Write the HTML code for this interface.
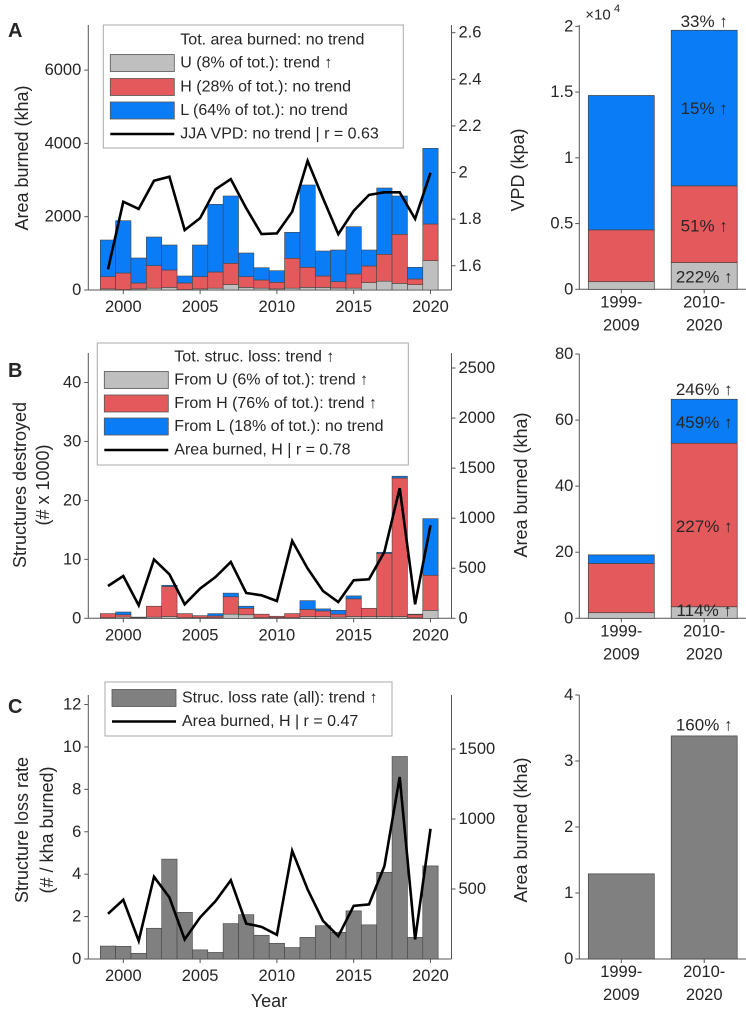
<!DOCTYPE html>
<html><head><meta charset="utf-8"><style>
html,body{margin:0;padding:0;background:#fff}
svg{display:block;font-family:"Liberation Sans",Arial,sans-serif}
text{fill:#262626}
</style></head><body>
<svg id="fig" width="746" height="1015" viewBox="0 0 746 1015"></svg>
<script>
const years=[1999,2000,2001,2002,2003,2004,2005,2006,2007,2008,2009,2010,2011,2012,2013,2014,2015,2016,2017,2018,2019,2020];
// Panel A: area burned (kha)
const areaU=[30,10,30,50,70,10,30,50,150,70,50,30,50,70,70,55,50,200,240,180,145,800];
const areaH=[333,454,161,613,476,181,333,441,578,293,223,180,815,549,312,171,387,455,734,1340,155,1001];
const areaL=[1001,1427,682,783,682,191,865,1847,1837,647,335,317,709,2246,682,865,1290,436,1809,1045,319,2065];
const vpd=[1.585,1.875,1.844,1.965,1.982,1.753,1.804,1.928,1.972,1.847,1.736,1.739,1.832,2.05,1.89,1.736,1.836,1.904,1.915,1.915,1.801,1.999];
// Panel B: structures destroyed (thousands)
const strU=[0.1,0.2,0.1,0.2,0.3,0.1,0.1,0.1,0.7,0.6,0.1,0.1,0.1,0.3,0.3,0.2,0.3,0.3,0.3,0.3,0.1,1.35];
const strH=[0.7,0.4,0.1,1.85,5.1,0.7,0.35,0.3,2.95,1.1,0.6,0.25,0.7,1.2,0.95,0.5,3.0,1.4,10.7,23.5,0.5,5.95];
const strL=[0,0.47,0,0,0.2,0,0,0.4,0.62,0.35,0,0,0,1.5,0.35,0.65,0.5,0,0.2,0.3,0.1,9.6];
const areaBurnedH=[323,423,130,587,440,140,297,413,563,253,230,173,773,497,273,163,380,390,663,1300,140,930];
// Panel C: structure loss rate
const lossRate=[0.61,0.6,0.27,1.45,4.71,2.2,0.43,0.31,1.67,2.09,1.12,0.74,0.54,1.02,1.57,1.26,2.27,1.61,4.09,9.55,1.02,4.39];
// Right panels
const periods=["1999-|2009","2010-|2020"];
const perAreaU=[0.058,0.203],perAreaH=[0.394,0.584],perAreaL=[1.022,1.183];
const perAreaLbl=["33% ↑","15% ↑","51% ↑","222% ↑"];
const perStrU=[1.7,3.5],perStrH=[14.9,49.5],perStrL=[2.6,13.3];
const perStrLbl=["246% ↑","459% ↑","227% ↑","114% ↑"];
const perRate=[1.29,3.38];
const perRateLbl=["160% ↑"];
const ticksA=[0,2000,4000,6000],ticksVPD=[1.6,1.8,2.0,2.2,2.4,2.6],ticksVPDlbl=["1.6","1.8","2","2.2","2.4","2.6"];
const ticksB=[0,10,20,30,40],ticksBr=[0,500,1000,1500,2000,2500];
const ticksC=[0,2,4,6,8,10,12],ticksCr=[500,1000,1500];
const xTicks=[2000,2005,2010,2015,2020];

const C={U:"#bfbfbf",H:"#e45a5c",L:"#0a7df6",G:"#808080",ax:"#555"};
const FS=16.5;
const svg=document.getElementById('fig');
const NS="http://www.w3.org/2000/svg";
function el(tag,attrs,parent){const e=document.createElementNS(NS,tag);for(const k in attrs)e.setAttribute(k,attrs[k]);(parent||svg).appendChild(e);return e;}
function txt(s,x,y,opt,parent){const t=el('text',Object.assign({x:x,y:y,'font-size':FS,'text-anchor':'middle','dominant-baseline':'central'},opt||{}),parent);t.textContent=s;return t;}

const X0=88.3,X1=451.5,yr0=1997.72,yr1=2021.37;
const xs=v=>X0+(v-yr0)/(yr1-yr0)*(X1-X0);
const bw=xs(2001)-xs(2000);
function lin(d0,d1,p0,p1){return v=>p0+(v-d0)/(d1-d0)*(p1-p0);}

function leftPanel(g,top,bot,ysL,ticksL,lblL,ysR,ticksR,lblR){
  el('line',{x1:X0,y1:top,x2:X0,y2:bot,stroke:C.ax,'stroke-width':1},g);
  el('line',{x1:X1,y1:top,x2:X1,y2:bot,stroke:C.ax,'stroke-width':1},g);
  el('line',{x1:X0,y1:bot,x2:X1,y2:bot,stroke:C.ax,'stroke-width':1},g);
  ticksL.forEach((t,i)=>{const y=ysL(t);el('line',{x1:X0-4,y1:y,x2:X0,y2:y,stroke:C.ax},g);const tt=txt(lblL[i],X0-7,y,{'text-anchor':'end'},g);});
  ticksR.forEach((t,i)=>{const y=ysR(t);el('line',{x1:X1,y1:y,x2:X1+4,y2:y,stroke:C.ax},g);const tt=txt(lblR[i],X1+7,y,{'text-anchor':'start'},g);});
  xTicks.forEach(t=>{const x=xs(t);el('line',{x1:x,y1:bot,x2:x,y2:bot+4,stroke:C.ax},g);const tt=txt(String(t),x,bot+17,{},g);});
}
function stack(g,ys,series,colors,names){
  years.forEach((yr,i)=>{let base=0;series.forEach((s,k)=>{const v=s[i];if(v<=0)return;const y1=ys(base),y2=ys(base+v);
    const r=el('rect',{x:xs(yr)-bw/2,y:y2,width:bw,height:y1-y2,fill:colors[k],stroke:'#444','stroke-width':0.6},g);
    
    
    base+=v;});});
}
function line(g,ys,vals,name){
  const p=years.map((yr,i)=>xs(yr).toFixed(1)+','+ys(vals[i]).toFixed(1)).join(' ');
  const l=el('polyline',{points:p,fill:'none',stroke:'#000','stroke-width':2.6,'stroke-linejoin':'miter'},g);
  
  
}
function legend(g,x,y,w,h,rows){
  const b=el('rect',{x:x,y:y,width:w,height:h,fill:'#fff',stroke:'#aaa','stroke-width':1},g);
  
  
  rows.forEach(r=>{
    if(r.c){const s=el('rect',{x:x+7,y:r.y-8.5,width:64,height:17,fill:r.c,stroke:'#555','stroke-width':0.8},g);}
    if(r.line){const s=el('line',{x1:x+7,y1:r.y,x2:x+71,y2:r.y,stroke:'#000','stroke-width':2.6},g);}
    const t=txt(r.t,x+77,r.y,{'text-anchor':'start','font-size':16},g);
  });
}
function vlabel(s,x,y,name){const t=txt(s,x,y,{transform:`rotate(-90 ${x} ${y})`,'font-size':18});}
function plabel(s,x,y,name){const t=txt(s,x,y,{'font-size':20,'font-weight':'bold','text-anchor':'start',fill:'#000'});}

// ---------- Panel A ----------
const gA=el('g',{});
const yA=lin(0,7230,290,25),yV=lin(1.496,2.633,290,25);
leftPanel(gA,25,290,yA,ticksA,ticksA.map(String),yV,ticksVPD,ticksVPDlbl);
stack(gA,yA,[areaU,areaH,areaL],[C.U,C.H,C.L],['u','h','l']);
line(gA,yV,vpd,'vpd-line');
legend(gA,103.3,25,300,123,[{t:'Tot. area burned: no trend',y:40},{t:'U (8% of tot.): trend ↑',y:63,c:C.U},{t:'H (28% of tot.): no trend',y:87,c:C.H},{t:'L (64% of tot.): no trend',y:110.5,c:C.L},{t:'JJA VPD: no trend | r = 0.63',y:134,line:1}]);
vlabel('Area burned (kha)',22,158,'y-axis-title-area');
vlabel('VPD (kpa)',518,170,'y-axis-title-vpd');
plabel('A',8,31,'panel-label-a');

// ---------- Panel B ----------
const gB=el('g',{});
const yB=lin(0,45,618.3,353),yBr=lin(0,2650,618.3,353);
leftPanel(gB,353,618.3,yB,ticksB,ticksB.map(String),yBr,ticksBr,ticksBr.map(String));
stack(gB,yB,[strU,strH,strL],[C.U,C.H,C.L],['u','h','l']);
line(gB,yBr,areaBurnedH,'area-burned-h-line');
legend(gB,97.3,343,311,122,[{t:'Tot. struc. loss: trend ↑',y:357},{t:'From U (6% of tot.): trend ↑',y:380,c:C.U},{t:'From H (76% of tot.): trend ↑',y:403.5,c:C.H},{t:'From L (18% of tot.): no trend',y:426.5,c:C.L},{t:'Area burned, H | r = 0.78',y:450,line:1}]);
vlabel('Structures destroyed',20,485,'y-axis-title-structures');
vlabel('(# x 1000)',43,485,'y-axis-title-structures-unit');
vlabel('Area burned (kha)',521,485,'y-axis-title-area-b');
plabel('B',8,371,'panel-label-b');

// ---------- Panel C ----------
const gC=el('g',{});
const yC=lin(0,12.45,959,695),yCr=lin(0,1886,959,695);
leftPanel(gC,695,959,yC,ticksC,ticksC.map(String),yCr,ticksCr,ticksCr.map(String));
stack(gC,yC,[lossRate],[C.G],['rate']);
line(gC,yCr,areaBurnedH,'area-burned-h-line-c');
legend(gC,105,682,287,54,[{t:'Struc. loss rate (all): trend ↑',y:698,c:C.G},{t:'Area burned, H | r = 0.47',y:721.5,line:1}]);
vlabel('Structure loss rate',22,830,'y-axis-title-loss-rate');
vlabel('(# / kha burned)',47,830,'y-axis-title-loss-rate-unit');
vlabel('Area burned (kha)',521,830,'y-axis-title-area-c');
const yt=txt('Year',269,1001,{'font-size':18});
plabel('C',8,707,'panel-label-c');

// ---------- Right panels ----------
const RX0=579.3,RX1=746;
const bx=[621.3,704.2],rbw=66;
function rightPanel(name,top,bot,ys,ticks,tickLbl,series,colors,labels,lblY){
  const g=el('g',{});
  el('line',{x1:RX0,y1:top,x2:RX0,y2:bot,stroke:C.ax},g);
  el('line',{x1:RX0,y1:bot,x2:RX1,y2:bot,stroke:C.ax},g);
  ticks.forEach((t,i)=>{const y=ys(t);el('line',{x1:RX0-4,y1:y,x2:RX0,y2:y,stroke:C.ax},g);const tt=txt(tickLbl[i],RX0-6,y,{'text-anchor':'end'},g);});
  periods.forEach((p,j)=>{let base=0;series.forEach((s,k)=>{const v=s[j];const r=el('rect',{x:bx[j]-rbw/2,y:ys(base+v),width:rbw,height:ys(base)-ys(base+v),fill:colors[k],stroke:'#444','stroke-width':0.7},g);
      
      
      base+=v;});
    el('line',{x1:bx[j],y1:bot,x2:bx[j],y2:bot+4,stroke:C.ax},g);
    const ps=p.split('|');
    const t1=txt(ps[0],bx[j],bot+13,{},g);
    const t2=txt(ps[1],bx[j],bot+36,{},g);
  });
  labels.forEach((s,i)=>{const t=txt(s,bx[1],lblY[i],{'font-size':17},g);});
  return g;
}
const yRA=lin(0,2.01,289.3,25);
const gRA=rightPanel('panel-a-periods',25,289.3,yRA,[0,0.5,1,1.5,2],["0","0.5","1","1.5","2"],[perAreaU,perAreaH,perAreaL],[C.U,C.H,C.L],perAreaLbl,[21.7,108.3,226,277]);
const ex=txt('×10',598,15,{'font-size':15},gRA);
const ex2=txt('4',614,9,{'font-size':11,'text-anchor':'start'},gRA);
const yRB=lin(0,80,618.3,354);
rightPanel('panel-b-periods',354,618.3,yRB,[0,20,40,60,80],["0","20","40","60","80"],[perStrU,perStrH,perStrL],[C.U,C.H,C.L],perStrLbl,[389.3,422.7,526.7,610.7]);
const yRC=lin(0,4,959,695);
rightPanel('panel-c-periods',695,959,yRC,[0,1,2,3,4],["0","1","2","3","4"],[perRate],[C.G],perRateLbl,[725]);
</script>
</body></html>
